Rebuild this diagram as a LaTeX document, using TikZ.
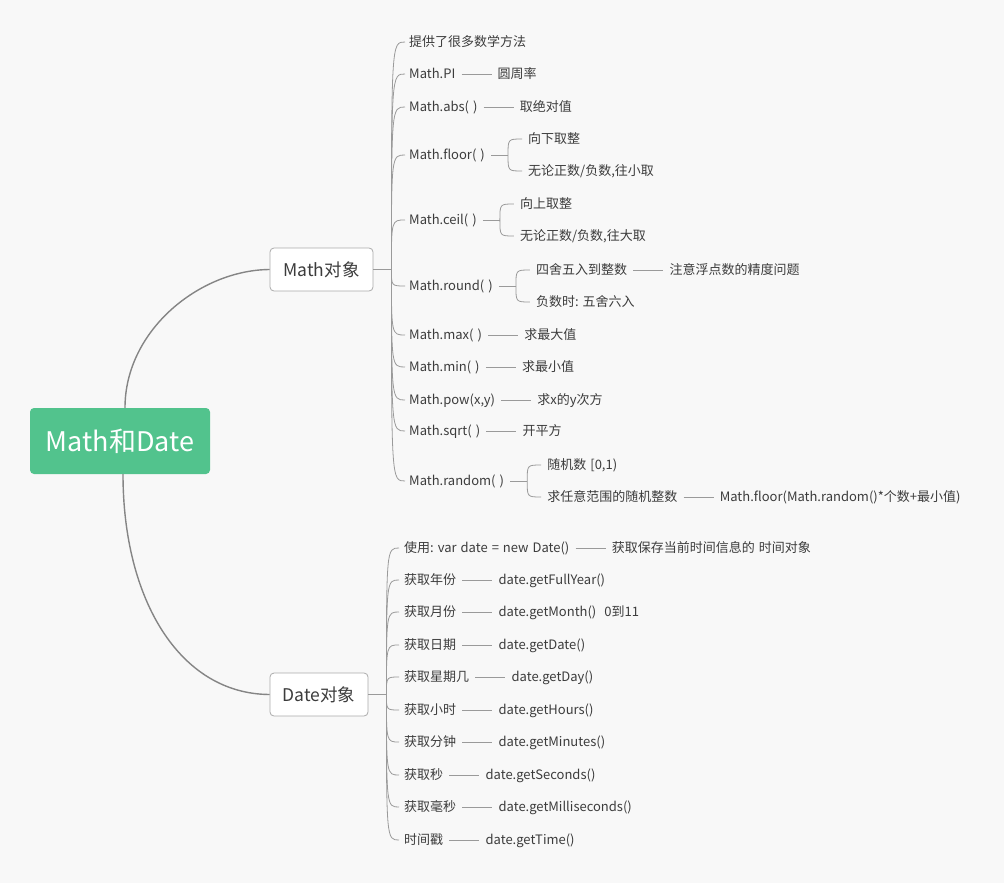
\documentclass[tikz,border=0pt]{standalone}
\usepackage{fontspec}
\setmainfont{Noto Sans CJK SC}
\usetikzlibrary{calc,positioning}
\definecolor{bg}{HTML}{F8F8F8}
\definecolor{rootc}{HTML}{52C38D}
\definecolor{linec}{HTML}{858585}
\definecolor{brc}{HTML}{9A9A9A}
\definecolor{txtc}{HTML}{3C3C3C}
\definecolor{boxb}{HTML}{ABABAB}
\newcommand\wsp{\hspace{4pt}}
\begin{document}
\begin{tikzpicture}[x=1pt,y=-1pt,
  txt/.style={inner sep=0pt, anchor=west, text height=11pt, text depth=1.2pt,
    font=\fontsize{13}{15}\selectfont, text=txtc},
  conn/.style={draw=brc, line width=0.8pt},
  pair/.style={conn, shorten <=6pt, shorten >=6pt},
  mainline/.style={draw=linec, line width=1.4pt},
  topic/.style={draw=boxb, fill=white, rounded corners=4pt, line width=0.8pt,
    text=txtc, font=\fontsize{17.5}{20}\selectfont, minimum height=43pt, inner sep=0pt},
  rootbox/.style={fill=rootc, rounded corners=4pt, minimum width=180pt,
    minimum height=66pt, text=white, font=\fontsize{27}{30}\selectfont, inner sep=0pt},
  node distance=42pt
]
\fill[bg] (0,0) rectangle (1004,883);
\useasboundingbox (0,0) rectangle (1004,883);

% root and topics
\node[rootbox] (root) at (120,441) {Math和Date};
\node[topic, minimum width=103pt] (mathbox) at (321.5,269.5) {Math对象};
\node[topic, minimum width=98pt] (datebox) at (319,694.5) {Date对象};

\draw[mainline] ([xshift=5pt]root.north) .. controls (125,330) and (200,270) .. (mathbox.west);
\draw[mainline] ([xshift=3pt]root.south) .. controls (123,600) and (180,694) .. (datebox.west);

% ---------- Math children ----------
\node[txt] (m1) at (409,42) {提供了很多数学方法};
\node[txt] (m2) at (409,74) {Math.PI};
\node[txt] (m3) at (409,107) {Math.abs(\wsp)};
\node[txt] (m4) at (409,155) {Math.floor(\wsp)};
\node[txt] (m5) at (409,220) {Math.ceil(\wsp)};
\node[txt] (m6) at (409,286) {Math.round(\wsp)};
\node[txt] (m7) at (409,335) {Math.max(\wsp)};
\node[txt] (m8) at (409,367) {Math.min(\wsp)};
\node[txt] (m9) at (409,400) {Math.pow(x,y)};
\node[txt] (m10) at (409,431) {Math.sqrt(\wsp)};
\node[txt] (m11) at (409,481) {Math.random(\wsp)};

\coordinate (mJ) at ([xshift=18pt]mathbox.east);
\draw[conn] (mathbox.east) -- (mJ);
\foreach \n in {m1,m2,m3,m4,m5,m6,m7,m8,m9,m10,m11}
  \draw[conn] (mJ) .. controls (mJ |- \n.west) and (mJ |- \n.west) .. ([xshift=-4pt]\n.west);

% simple pairs
\node[txt, right=of m2] (m2b) {圆周率};
\draw[pair] (m2.east) -- (m2b.west);
\node[txt, right=of m3] (m3b) {取绝对值};
\draw[pair] (m3.east) -- (m3b.west);
\node[txt, right=of m7] (m7b) {求最大值};
\draw[pair] (m7.east) -- (m7b.west);
\node[txt, right=of m8] (m8b) {求最小值};
\draw[pair] (m8.east) -- (m8b.west);
\node[txt, right=of m9] (m9b) {求x的y次方};
\draw[pair] (m9.east) -- (m9b.west);
\node[txt, right=of m10] (m10b) {开平方};
\draw[pair] (m10.east) -- (m10b.west);

% floor
\node[txt] (m4a) at ($(m4.east)+(43,-16)$) {向下取整};
\node[txt] (m4b) at ($(m4.east)+(43,16)$) {无论正数/负数,往小取};
\coordinate (m4J) at ([xshift=23pt]m4.east);
\draw[conn, shorten <=6pt] (m4.east) -- (m4J);
\foreach \k in {m4a,m4b}
  \draw[conn] (m4J) .. controls (m4J |- \k.west) and (m4J |- \k.west) .. ([xshift=-6pt]\k.west);

% ceil
\node[txt] (m5a) at ($(m5.east)+(43,-16)$) {向上取整};
\node[txt] (m5b) at ($(m5.east)+(43,16)$) {无论正数/负数,往大取};
\coordinate (m5J) at ([xshift=23pt]m5.east);
\draw[conn, shorten <=6pt] (m5.east) -- (m5J);
\foreach \k in {m5a,m5b}
  \draw[conn] (m5J) .. controls (m5J |- \k.west) and (m5J |- \k.west) .. ([xshift=-6pt]\k.west);

% round
\node[txt] (m6a) at ($(m6.east)+(43,-16)$) {四舍五入到整数};
\node[txt] (m6b) at ($(m6.east)+(43,16)$) {负数时:\wsp{}五舍六入};
\coordinate (m6J) at ([xshift=23pt]m6.east);
\draw[conn, shorten <=6pt] (m6.east) -- (m6J);
\foreach \k in {m6a,m6b}
  \draw[conn] (m6J) .. controls (m6J |- \k.west) and (m6J |- \k.west) .. ([xshift=-6pt]\k.west);
\node[txt, right=of m6a] (m6c) {注意浮点数的精度问题};
\draw[pair] (m6a.east) -- (m6c.west);

% random
\node[txt] (m11a) at ($(m11.east)+(43,-16)$) {随机数\wsp{}[0,1)};
\node[txt] (m11b) at ($(m11.east)+(43,16)$) {求任意范围的随机整数};
\coordinate (m11J) at ([xshift=23pt]m11.east);
\draw[conn, shorten <=6pt] (m11.east) -- (m11J);
\foreach \k in {m11a,m11b}
  \draw[conn] (m11J) .. controls (m11J |- \k.west) and (m11J |- \k.west) .. ([xshift=-6pt]\k.west);
\node[txt, right=of m11b] (m11c) {Math.floor(Math.random()*个数+最小值)};
\draw[pair] (m11b.east) -- (m11c.west);

% ---------- Date children ----------
\node[txt] (d1) at (404,548) {使用:\wsp{}var\wsp{}date\wsp{}=\wsp{}new\wsp{}Date()};
\node[txt] (d2) at (404,580) {获取年份};
\node[txt] (d3) at (404,612) {获取月份};
\node[txt] (d4) at (404,645) {获取日期};
\node[txt] (d5) at (404,677) {获取星期几};
\node[txt] (d6) at (404,710) {获取小时};
\node[txt] (d7) at (404,742) {获取分钟};
\node[txt] (d8) at (404,775) {获取秒};
\node[txt] (d9) at (404,807) {获取毫秒};
\node[txt] (d10) at (404,840) {时间戳};

\coordinate (dJ) at ([xshift=18pt]datebox.east);
\draw[conn] (datebox.east) -- (dJ);
\foreach \n in {d1,d2,d3,d4,d5,d6,d7,d8,d9,d10}
  \draw[conn] (dJ) .. controls (dJ |- \n.west) and (dJ |- \n.west) .. ([xshift=-5pt]\n.west);

\node[txt, right=of d1] (d1b) {获取保存当前时间信息的\wsp{}时间对象};
\node[txt, right=of d2] (d2b) {date.getFullYear()};
\node[txt, right=of d3] (d3b) {date.getMonth()\wsp{}\wsp{}0到11};
\node[txt, right=of d4] (d4b) {date.getDate()};
\node[txt, right=of d5] (d5b) {date.getDay()};
\node[txt, right=of d6] (d6b) {date.getHours()};
\node[txt, right=of d7] (d7b) {date.getMinutes()};
\node[txt, right=of d8] (d8b) {date.getSeconds()};
\node[txt, right=of d9] (d9b) {date.getMilliseconds()};
\node[txt, right=of d10] (d10b) {date.getTime()};
\foreach \a/\b in {d1/d1b,d2/d2b,d3/d3b,d4/d4b,d5/d5b,d6/d6b,d7/d7b,d8/d8b,d9/d9b,d10/d10b}
  \draw[pair] (\a.east) -- (\b.west);
\end{tikzpicture}
\end{document}
